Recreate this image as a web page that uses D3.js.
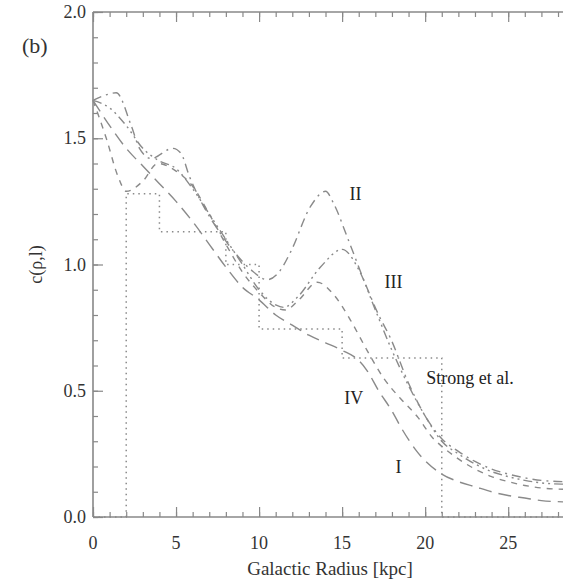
<!DOCTYPE html>
<html>
<head>
<meta charset="utf-8">
<script src="https://cdn.jsdelivr.net/npm/d3@7"></script>
<style>
  html, body { margin: 0; padding: 0; background: #fff; }
</style>
</head>
<body>
<svg id="chart" width="563" height="580" font-family="'Liberation Serif', 'Times New Roman', 'DejaVu Serif', serif"></svg>
<script>
// Model curves of c(rho,l) versus galactocentric radius [kpc], as [R, c] pairs
const curveI = [[0,1.65],[1,1.55],[2,1.46],[3,1.39],[4,1.32],[5,1.25],[6,1.17],[7,1.08],[8,0.99],[9,0.91],
  [10,0.86],[11,0.80],[12,0.76],[13,0.72],[14,0.69],[15,0.66],[16,0.62],[16.5,0.58],[17.2,0.50],[18,0.42],
  [18.5,0.36],[19.5,0.26],[21,0.17],[22,0.14],[23,0.12],[24,0.10],[25,0.085],[26,0.075],[27,0.065],[28.3,0.06]];
const curveII = [[0,1.65],[0.7,1.67],[1.4,1.68],[2.3,1.55],[2.8,1.46],[3.5,1.42],[4.8,1.46],[5.3,1.44],[5.8,1.35],
  [6.5,1.25],[7.5,1.14],[8.5,1.05],[9.5,0.98],[10.5,0.94],[11.2,0.97],[11.9,1.05],[13.1,1.23],[14,1.29],[14.5,1.24],
  [15.3,1.11],[16.3,0.94],[17.2,0.80],[17.9,0.71],[19,0.53],[20,0.40],[21,0.31],[22,0.26],[23,0.22],[24,0.19],
  [25,0.17],[26,0.155],[27,0.145],[28.3,0.14]];
const curveIII = [[0,1.65],[1,1.62],[2,1.55],[3,1.46],[4,1.41],[5,1.38],[6,1.30],[7,1.20],[8,1.10],[9,1.00],
  [10,0.90],[11,0.84],[11.5,0.83],[12.3,0.87],[13.7,0.99],[15,1.06],[16,0.98],[17,0.82],[18,0.66],[19,0.52],
  [20,0.40],[21,0.30],[22,0.25],[23,0.21],[24,0.18],[25,0.16],[26,0.145],[27,0.135],[28.3,0.13]];
const curveIV = [[0,1.65],[0.8,1.50],[1.5,1.35],[2,1.29],[3,1.33],[3.9,1.40],[5,1.37],[6,1.31],[7,1.20],[8,1.08],
  [9,0.97],[10,0.89],[11,0.83],[11.6,0.82],[12.4,0.86],[13.5,0.93],[14.5,0.88],[15.5,0.78],[16.5,0.66],[17.5,0.55],
  [18.5,0.47],[19.5,0.40],[20.5,0.31],[21,0.28],[22,0.23],[23,0.19],[24,0.16],[25,0.14],[26,0.125],[27,0.115],[28.3,0.11]];

// Strong et al. radial bins: [R_min, R_max, value]
const strongBins = [[0,2,0],[2,4,1.28],[4,8,1.13],[8,10,1.0],[10,15,0.745],[15,21,0.63],[21,28.3,0]];

// Curve labels: [text, R, c]
const curveLabels = [["II",15.8,1.28],["III",18.1,0.93],["IV",15.7,0.47],["I",18.4,0.20],["Strong et al.",22.7,0.55]];

// Axis ticks
const xMajorTicks = [0,5,10,15,20,25];
const yMajorTicks = [0.0,0.5,1.0,1.5,2.0];

const svg = d3.select("#chart");
const plotLeft = 93, plotRight = 563, plotTop = 12, plotBottom = 517;

const x = d3.scaleLinear().domain([0, 28.3]).range([plotLeft, plotRight]);
const y = d3.scaleLinear().domain([0, 2]).range([plotBottom, plotTop]);

const ink = "#8a8a8a";
const textInk = "#333";

// Plot frame: left, bottom and top spines
const frame = svg.append("g").attr("stroke", "#888").attr("stroke-width", 1.6).attr("fill", "none");
frame.append("line").attr("x1", plotLeft).attr("x2", plotLeft).attr("y1", plotTop).attr("y2", plotBottom);
frame.append("line").attr("x1", plotLeft).attr("x2", plotRight).attr("y1", plotBottom).attr("y2", plotBottom);
frame.append("line").attr("x1", plotLeft).attr("x2", plotRight).attr("y1", plotTop).attr("y2", plotTop);

// Minor and major ticks, drawn inward on bottom, top and left edges
const xMinor = d3.range(0, 29, 1);
const yMinor = d3.range(0, 2.001, 0.1);

function styleAxis(g) {
  g.select(".domain").remove();
  g.selectAll(".tick line").attr("stroke", "#888").attr("stroke-width", 1.2);
}

svg.append("g").attr("transform", `translate(0,${plotBottom})`)
  .call(d3.axisTop(x).tickValues(xMinor).tickSize(5).tickFormat(""))
  .call(styleAxis);
svg.append("g").attr("transform", `translate(0,${plotBottom})`)
  .call(d3.axisTop(x).tickValues(xMajorTicks).tickSize(10).tickFormat(""))
  .call(styleAxis);
svg.append("g").attr("transform", `translate(0,${plotTop})`)
  .call(d3.axisBottom(x).tickValues(xMinor).tickSize(5).tickFormat(""))
  .call(styleAxis);
svg.append("g").attr("transform", `translate(0,${plotTop})`)
  .call(d3.axisBottom(x).tickValues(xMajorTicks).tickSize(10).tickFormat(""))
  .call(styleAxis);
svg.append("g").attr("transform", `translate(${plotLeft},0)`)
  .call(d3.axisRight(y).tickValues(yMinor).tickSize(5).tickFormat(""))
  .call(styleAxis);
svg.append("g").attr("transform", `translate(${plotLeft},0)`)
  .call(d3.axisRight(y).tickValues(yMajorTicks).tickSize(10).tickFormat(""))
  .call(styleAxis);

// Tick labels
svg.append("g").selectAll("text").data(xMajorTicks).join("text")
  .attr("x", d => x(d)).attr("y", plotBottom + 32)
  .attr("text-anchor", "middle").attr("font-size", 18).attr("fill", textInk)
  .text(d => d3.format("d")(d));
svg.append("g").selectAll("text").data(yMajorTicks).join("text")
  .attr("x", plotLeft - 7).attr("y", d => y(d) + 6)
  .attr("text-anchor", "end").attr("font-size", 18).attr("fill", textInk)
  .text(d => d3.format(".1f")(d));

// Axis titles and panel tag
svg.append("text").attr("x", 330).attr("y", 575).attr("text-anchor", "middle")
  .attr("font-size", 19).attr("fill", textInk).text("Galactic Radius [kpc]");
svg.append("text").attr("transform", `translate(42,${y(1.0)}) rotate(-90)`)
  .attr("text-anchor", "middle").attr("font-size", 18).attr("fill", textInk).text("c(ρ,l)");
svg.append("text").attr("x", 22).attr("y", 53).attr("font-size", 22).attr("fill", textInk).text("(b)");

// Strong et al. step profile (dotted)
const stepPts = [];
strongBins.forEach(b => { stepPts.push([b[0], b[2]]); stepPts.push([b[1], b[2]]); });
const line = d3.line().x(d => x(d[0])).y(d => y(d[1]));
svg.append("path").datum(stepPts)
  .attr("d", line)
  .attr("fill", "none").attr("stroke", ink).attr("stroke-width", 1.5)
  .attr("stroke-dasharray", "1.5,4");

// Model curves
const smooth = d3.line().x(d => x(d[0])).y(d => y(d[1])).curve(d3.curveMonotoneX);
const curves = [
  { data: curveI,   dash: "13,7" },
  { data: curveII,  dash: "9,5,2,5" },
  { data: curveIII, dash: "9,4,2,4,2,4,2,4" },
  { data: curveIV,  dash: "6,6" }
];
svg.append("g").selectAll("path").data(curves).join("path")
  .attr("d", d => smooth(d.data))
  .attr("fill", "none").attr("stroke", ink).attr("stroke-width", 1.4)
  .attr("stroke-dasharray", d => d.dash);

// Curve labels
svg.append("g").selectAll("text").data(curveLabels).join("text")
  .attr("x", d => x(d[1])).attr("y", d => y(d[2]) + 6)
  .attr("text-anchor", "middle").attr("font-size", 18).attr("fill", "#222")
  .text(d => d[0]);
</script>
</body>
</html>
